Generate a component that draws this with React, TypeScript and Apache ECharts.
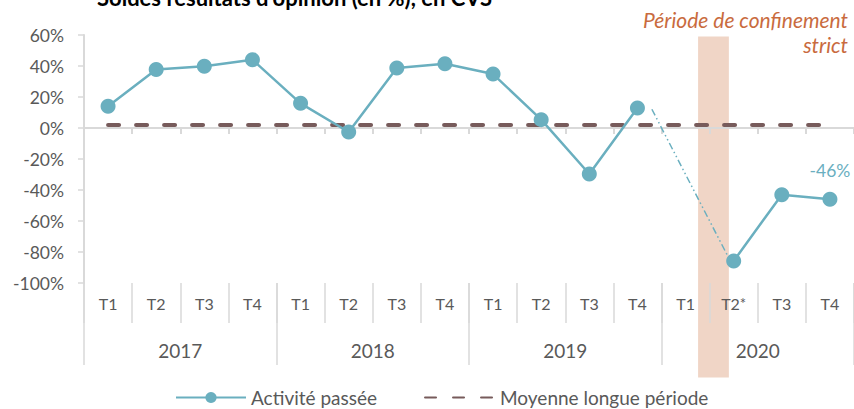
import React, { useEffect, useRef } from "react";
import * as echarts from "echarts";

const quarters = [
  "T1", "T2", "T3", "T4",
  "T1", "T2", "T3", "T4",
  "T1", "T2", "T3", "T4",
  "T1", "T2", "T3", "T4",
];
const years = ["2017", "2018", "2019", "2020"];
const activite: (number | null)[] = [
  14, 37.7, 39.8, 44.1,
  15.9, -2.6, 38.7, 41.5,
  34.8, 5.4, -29.7, 12.9,
  null, -85.8, -43, -46,
];
const moyenne = [2, 2, 2, 2, 2, 2, 2, 2, 2, 2, 2, 2, 2, 2, 2, 2];
// dotted bridge between 2019 T4 and 2020 T2 (x in category units, y in %)
const bridge = [
  [11.8, 12.1],
  [13.4, -84],
];
// confinement band (x in category units from left edge, y in %)
const bandFrom = 12.76;
const bandTo = 13.4;
const bandTop = 59;
const bandBottom = -161;
const starIndex = 13;
const labelIndex = 15;
const lastLabel = "-46%";
const yMin = -100;
const yMax = 60;
const yStep = 20;
const titleText = "Soldes résultats d'opinion (en %), en CVS";
const noteText = "Période de confinement\nstrict";

export default function App() {
  const ref = useRef<HTMLDivElement>(null);
  useEffect(() => {
    const chart = echarts.init(ref.current!, null, { renderer: "svg" });
    const font = "Lato";
    const grey = "#D9D9D9";
    const txt = "#595959";
    const teal = "#6AAFBF";
    const brown = "#775B5B";

    const seriesData = activite.map((v, i) =>
      i === labelIndex
        ? {
            value: v,
            label: {
              show: true,
              position: "top",
              distance: 12,
              color: teal,
              fontSize: 17.5,
              fontFamily: font,
              formatter: lastLabel,
            },
          }
        : v
    );

    chart.setOption({
      animation: false,
      textStyle: { fontFamily: font },
      grid: { left: 84, right: 0, top: 35, bottom: 126 },
      legend: {
        left: 170,
        top: 383,
        itemWidth: 70,
        itemHeight: 14,
        itemGap: 47,
        textStyle: { color: txt, fontSize: 19, fontFamily: font },
        data: [
          { name: "Activité passée" },
          { name: "Moyenne longue période", itemStyle: { opacity: 0 } },
        ],
      },
      xAxis: [
        {
          type: "category",
          data: quarters,
          position: "bottom",
          axisLine: { onZero: true, lineStyle: { color: grey, width: 2 } },
          axisTick: { show: true, length: 6, interval: 0, lineStyle: { color: grey, width: 2 } },
          axisLabel: { show: false },
          splitLine: { show: false },
        },
        {
          type: "category",
          data: quarters,
          position: "bottom",
          axisLine: { show: false, onZero: false },
          axisTick: { show: true, length: 40, interval: 0, lineStyle: { color: grey, width: 1.5 } },
          axisLabel: {
            interval: 0,
            margin: 12,
            color: txt,
            fontSize: 16,
            fontFamily: font,
            formatter: (v: string, i: number) =>
              i === starIndex ? "{t|" + v + "}{s|*}" : "{t|" + v + "}",
            rich: {
              t: {
                fontSize: 16,
                lineHeight: 16,
                color: txt,
                fontFamily: font,
                padding: [7, 0, 0, 0],
                verticalAlign: "bottom",
              },
              s: {
                fontSize: 15,
                lineHeight: 16,
                color: txt,
                fontFamily: font,
                padding: [0, 0, 7, 0],
                verticalAlign: "top",
              },
            },
          },
          splitLine: { show: false },
        },
        {
          type: "category",
          data: years,
          position: "bottom",
          axisLine: { show: false, onZero: false },
          axisTick: { show: true, length: 82, interval: 0, lineStyle: { color: grey, width: 1.5 } },
          axisLabel: { interval: 0, margin: 58, color: txt, fontSize: 19, fontFamily: font },
          splitLine: { show: false },
        },
        { type: "value", min: 0, max: 16, show: false, splitLine: { show: false } },
      ],
      yAxis: {
        type: "value",
        min: yMin,
        max: yMax,
        interval: yStep,
        axisLine: { show: true, onZero: false, lineStyle: { color: grey, width: 2 } },
        axisTick: { show: true, length: 6, lineStyle: { color: grey, width: 1.5 } },
        splitLine: { show: false },
        axisLabel: { formatter: "{value}%", color: txt, fontSize: 17.5, margin: 20, fontFamily: font },
      },
      series: [
        {
          name: "Moyenne longue période",
          type: "line",
          xAxisIndex: 0,
          data: moyenne,
          symbol: "none",
          lineStyle: { color: brown, width: 4, type: [11, 17], cap: "round" },
          itemStyle: { color: brown },
          z: 3,
        },
        {
          name: "bridge",
          type: "line",
          xAxisIndex: 3,
          data: bridge,
          symbol: "none",
          lineStyle: { color: teal, width: 1.5, type: [7, 3, 1.5, 3, 1.5, 3] },
          itemStyle: { color: teal },
          z: 3,
          silent: true,
        },
        {
          name: "Activité passée",
          type: "line",
          xAxisIndex: 0,
          data: seriesData,
          symbol: "circle",
          symbolSize: 15,
          connectNulls: false,
          lineStyle: { color: teal, width: 2.5 },
          itemStyle: { color: teal },
          z: 4,
        },
      ],
    });

    const x0 = chart.convertToPixel({ xAxisIndex: 3 } as any, bandFrom) as number;
    const x1 = chart.convertToPixel({ xAxisIndex: 3 } as any, bandTo) as number;
    const y0 = chart.convertToPixel({ yAxisIndex: 0 } as any, bandTop) as number;
    const y1 = chart.convertToPixel({ yAxisIndex: 0 } as any, bandBottom) as number;

    chart.setOption({
      graphic: [
        {
          id: "band",
          type: "rect",
          z: -10,
          silent: true,
          shape: { x: x0, y: y0, width: x1 - x0, height: y1 - y0 },
          style: { fill: "#F0D5C6" },
        },
        {
          id: "title",
          type: "text",
          x: 97,
          y: 8,
          style: {
            text: titleText,
            fill: "#000",
            font: `bold 22px ${font}`,
            verticalAlign: "bottom",
          },
        },
        {
          id: "note",
          type: "text",
          x: 848,
          y: 6.5,
          style: {
            text: noteText,
            fill: "#C96B3E",
            font: `italic 21px ${font}`,
            align: "right",
            verticalAlign: "top",
            lineHeight: 25,
          },
        },
      ],
    });

    return () => chart.dispose();
  }, []);

  return (
    <div
      ref={ref}
      style={{ position: "absolute", left: 0, top: 0, width: 854, height: 409 }}
    />
  );
}
